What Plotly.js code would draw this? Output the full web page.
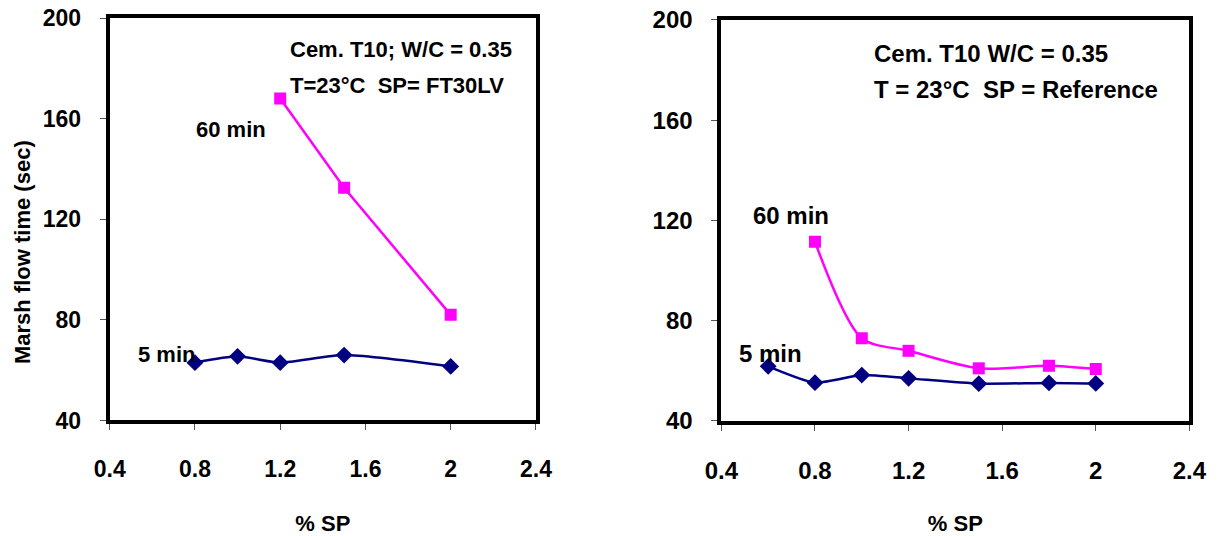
<!DOCTYPE html>
<html>
<head>
<meta charset="utf-8">
<script src="https://cdn.plot.ly/plotly-3.0.1.min.js"></script>
<style>html,body{margin:0;padding:0;background:#fff}#chart{width:1220px;height:536px}</style>
</head>
<body>
<div id="chart"></div>
<script>
// Left panel: SP = FT30LV
const leftX5 = [0.8, 1.0, 1.2, 1.5, 2.0];
const leftY5 = [63, 65.5, 63, 66, 61.5];
const leftX60 = [1.2, 1.5, 2.0];
const leftY60 = [168, 132.5, 82];

// Right panel: SP = Reference
const rightX5 = [0.6, 0.8, 1.0, 1.2, 1.5, 1.8, 2.0];
const rightY5 = [61.8, 55.3, 58.3, 57, 54.9, 55.2, 55];
const rightX60 = [0.8, 1.0, 1.2, 1.5, 1.8, 2.0];
const rightY60 = [111.5, 73, 68, 61, 62, 60.7];

const xTicks = [0.4, 0.8, 1.2, 1.6, 2, 2.4];
const xTickText = ['0.4', '0.8', '1.2', '1.6', '2', '2.4'];
const yTicks = [40, 80, 120, 160, 200];

const NAVY = '#000080';
const MAG = '#FF00FF';
const FONT = 'Liberation Sans, Arial, sans-serif';

const traces = [
  {x: leftX5, y: leftY5, xaxis: 'x', yaxis: 'y', mode: 'lines+markers', name: '5 min',
   line: {color: NAVY, width: 2.5, shape: 'spline', smoothing: 0.6},
   marker: {symbol: 'diamond', size: 13, color: NAVY}},
  {x: leftX60, y: leftY60, xaxis: 'x', yaxis: 'y', mode: 'lines+markers', name: '60 min',
   line: {color: MAG, width: 2.5},
   marker: {symbol: 'square', size: 12, color: MAG}},
  {x: rightX5, y: rightY5, xaxis: 'x2', yaxis: 'y2', mode: 'lines+markers', name: '5 min',
   line: {color: NAVY, width: 2.5, shape: 'spline', smoothing: 0.6},
   marker: {symbol: 'diamond', size: 13, color: NAVY}},
  {x: rightX60, y: rightY60, xaxis: 'x2', yaxis: 'y2', mode: 'lines+markers', name: '60 min',
   line: {color: MAG, width: 2.5, shape: 'spline', smoothing: 0.8},
   marker: {symbol: 'square', size: 12, color: MAG}}
];

function xAxis(domain, anchor, fs) {
  return {
    domain: domain, anchor: anchor, range: [0.4, 2.4],
    tickvals: xTicks, ticktext: xTickText,
    showgrid: false, zeroline: false,
    showline: true, linecolor: '#000', linewidth: 4, mirror: true,
    ticks: 'outside', ticklen: 6, tickwidth: 1, tickcolor: '#555',
    ticklabelstandoff: 19,
    tickfont: {family: FONT, size: fs, color: '#000', weight: 'bold'},
    title: {text: '% SP', font: {family: FONT, size: 22, color: '#000', weight: 'bold'}, standoff: 40}
  };
}
function yAxis(domain, anchor, fs) {
  return {
    domain: domain, anchor: anchor, range: [40, 200],
    tickvals: yTicks,
    showgrid: false, zeroline: false,
    showline: true, linecolor: '#000', linewidth: 4, mirror: true,
    ticks: 'outside', ticklen: 6, tickwidth: 1, tickcolor: '#555',
    ticklabelstandoff: 14,
    tickfont: {family: FONT, size: fs, color: '#000', weight: 'bold'}
  };
}

const annL = {family: FONT, size: 22, color: '#000', weight: 'bold'};
const annR = {family: FONT, size: 24, color: '#000', weight: 'bold'};
const annotations = [
  {xref: 'x', yref: 'y', x: 1.237, y: 187.4, text: 'Cem. T10; W/C = 0.35', xanchor: 'left', font: annL},
  {xref: 'x', yref: 'y', x: 1.237, y: 173.2, text: 'T=23°C  SP= FT30LV', xanchor: 'left', font: annL},
  {xref: 'x', yref: 'y', x: 0.967, y: 155.5, text: '60 min', xanchor: 'center', font: annL},
  {xref: 'x', yref: 'y', x: 0.665, y: 66.4, text: '5 min', xanchor: 'center', font: annL},
  {xref: 'x2', yref: 'y2', x: 1.044, y: 186.6, text: 'Cem. T10 W/C = 0.35', xanchor: 'left', font: annR},
  {xref: 'x2', yref: 'y2', x: 1.044, y: 172.4, text: 'T = 23°C  SP = Reference', xanchor: 'left', font: annR},
  {xref: 'x2', yref: 'y2', x: 0.697, y: 121.8, text: '60 min', xanchor: 'center', font: annR},
  {xref: 'x2', yref: 'y2', x: 0.608, y: 66.9, text: '5 min', xanchor: 'center', font: annR},
  // y-axis title of the left panel
  {xref: 'paper', yref: 'paper', x: 22 / 1220, y: 1 - 252 / 536, text: 'Marsh flow time (sec)',
   textangle: -90, xanchor: 'center', yanchor: 'middle',
   font: {family: FONT, size: 22, color: '#000', weight: 'bold'}}
].map(a => Object.assign({showarrow: false}, a));

const layout = {
  width: 1220, height: 536,
  margin: {l: 0, r: 0, t: 0, b: 0},
  paper_bgcolor: '#fff', plot_bgcolor: '#fff',
  showlegend: false,
  xaxis: xAxis([0.0899, 0.4393], 'y', 23),
  yaxis: yAxis([0.2155, 0.9664], 'x', 23),
  xaxis2: xAxis([0.5913, 0.9749], 'y2', 24),
  yaxis2: yAxis([0.2146, 0.9627], 'x2', 24),
  annotations: annotations
};

Plotly.newPlot('chart', traces, layout, {displayModeBar: false, staticPlot: true});
</script>
</body>
</html>
